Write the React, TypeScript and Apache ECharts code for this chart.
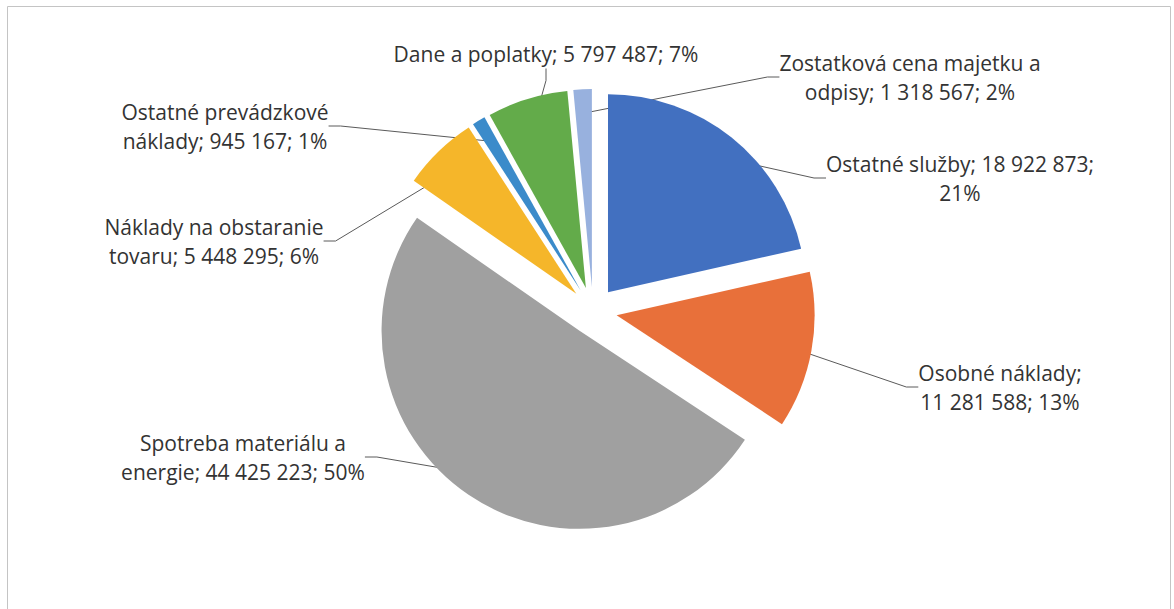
import React, { useEffect, useRef } from "react";
import * as echarts from "echarts";

const names = [
  "Ostatné služby",
  "Osobné náklady",
  "Spotreba materiálu a energie",
  "Náklady na obstaranie tovaru",
  "Ostatné prevádzkové náklady",
  "Dane a poplatky",
  "Zostatková cena majetku a odpisy",
];
const values = [18922873, 11281588, 44425223, 5448295, 945167, 5797487, 1318567];
const colors = ["#4270c0", "#e8703a", "#a0a0a0", "#f5b62a", "#3b8bca", "#63ab4a", "#98b1de"];
// number of words on the first line of each data label (0 = single line)
const firstLineWords = [5, 2, 3, 3, 2, 0, 4];
// layout: label centres in px
const labelCenters: [number, number][] = [
  [960, 178],
  [1000, 387],
  [243, 457],
  [214, 241],
  [225, 126],
  [546, 54],
  [910, 77],
];

const fmt = (v: number) => String(v).replace(/\B(?=(\d{3})+(?!\d))/g, " ");

const CENTER = [593, 311];
const RADIUS = 198;

export default function App() {
  const ref = useRef<HTMLDivElement>(null);
  useEffect(() => {
    if (!ref.current) return;
    const chart = echarts.init(ref.current, undefined, { renderer: "svg" });
    chart.setOption({
      animation: false,
      backgroundColor: "#ffffff",
      graphic: [
        {
          type: "rect",
          shape: { x: 7.5, y: 6.5, width: 1163, height: 650 },
          style: { fill: "none", stroke: "#c4c4c4", lineWidth: 1 },
          silent: true,
        },
      ],
      series: [
        {
          // label carrier (not exploded), drawn beneath the visible slices
          type: "pie",
          z: 1,
          center: CENTER,
          radius: RADIUS,
          startAngle: 90,
          clockwise: true,
          avoidLabelOverlap: false,
          percentPrecision: 0,
          silent: true,
          itemStyle: { color: "rgba(0,0,0,0)", borderWidth: 0 },
          emphasis: { disabled: true },
          label: {
            show: true,
            position: "outside",
            fontFamily: "'Open Sans', 'Noto Sans', sans-serif",
            fontSize: 21,
            lineHeight: 29,
            color: "#333333",
            align: "center",
            formatter: (p: any) => {
              const full = `${p.name}; ${fmt(p.value)}; ${p.percent}%`;
              const n = firstLineWords[p.dataIndex];
              if (!n) return full;
              const words = full.split(" ");
              return words.slice(0, n).join(" ") + "\n" + words.slice(n).join(" ");
            },
          },
          labelLine: {
            show: true,
            length: 15,
            length2: 12,
            smooth: false,
            lineStyle: { color: "#5a5a5a", width: 1 },
          },
          labelLayout: (params: any) => {
            const c = labelCenters[params.dataIndex];
            return { x: c[0], y: c[1], align: "center", verticalAlign: "middle" };
          },
          data: names.map((name, i) => ({ name, value: values[i] })),
        },
        {
          // visible exploded slices
          type: "pie",
          z: 2,
          center: CENTER,
          radius: RADIUS,
          startAngle: 90,
          clockwise: true,
          selectedMode: "multiple",
          selectedOffset: 24,
          silent: true,
          label: { show: false },
          labelLine: { show: false },
          itemStyle: { borderWidth: 0 },
          select: { itemStyle: { borderWidth: 0 } },
          emphasis: { disabled: true },
          data: names.map((name, i) => ({
            name,
            value: values[i],
            selected: true,
            itemStyle: { color: colors[i] },
          })),
        },
      ],
    });
    return () => chart.dispose();
  }, []);
  return (
    <div
      ref={ref}
      style={{ position: "fixed", left: 0, top: 0, width: 1174, height: 609 }}
    />
  );
}
